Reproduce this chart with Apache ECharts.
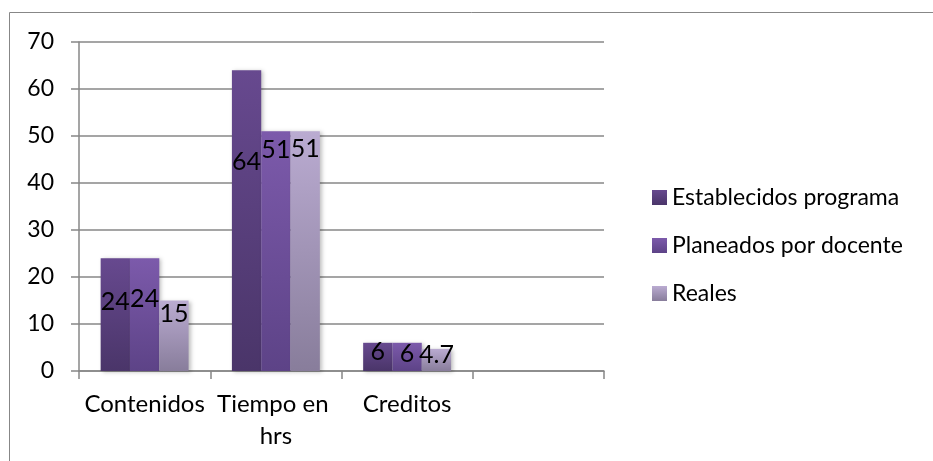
<!DOCTYPE html>
<html><head><meta charset="utf-8">
<script src="https://cdn.jsdelivr.net/npm/echarts@6/dist/echarts.min.js"></script>
<style>html,body{margin:0;padding:0;background:#fff}#c{width:933px;height:461px}</style>
</head><body><div id="c"></div>
<script>
var categories = ['Contenidos', 'Tiempo en hrs', 'Creditos', ''];
var seriesNames = ['Establecidos programa', 'Planeados por docente', 'Reales'];
var establecidos = [24, 64, 6, null];
var planeados = [24, 51, 6, null];
var reales = [15, 51, 4.7, null];
var yTicks = [0, 10, 20, 30, 40, 50, 60, 70];

var FONT = 'Lato';
var colors = [
  ['#67498f', '#4a3569'],
  ['#7c5aab', '#5d4387'],
  ['#baabd1', '#887d9b']
];
// label vertical nudges (style only)
var labelNudge = [[26, 74, -8, 0], [23, 1, -6, 0], [-4, 0, -11, 0]];

function grad(c) {
  return new echarts.graphic.LinearGradient(0, 0, 0, 1, [{offset: 0, color: c[0]}, {offset: 1, color: c[1]}]);
}
var values = [establecidos, planeados, reales];
var series = values.map(function (arr, s) {
  return {
    name: seriesNames[s], type: 'bar', barGap: '0%', barCategoryGap: '33%',
    itemStyle: {color: grad(colors[s]), shadowColor: 'rgba(0,0,0,0.25)', shadowBlur: 4, shadowOffsetX: 2, shadowOffsetY: 1},
    label: {show: true, position: 'insideTop', distance: 5, color: '#000', fontFamily: FONT, fontSize: 25},
    data: arr.map(function (v, i) {
      return {value: v, label: {offset: [0, labelNudge[s][i]]}};
    })
  };
});

var chart = echarts.init(document.getElementById('c'));
chart.setOption({
  animation: false,
  graphic: [{type: 'rect', shape: {x: 9.5, y: 12.5, width: 1000, height: 500}, style: {fill: 'none', stroke: '#878787', lineWidth: 1}, z: -1}],
  grid: {left: 79, right: 329, top: 42, bottom: 90},
  legend: {
    orient: 'vertical', left: 647, top: 181, itemGap: 25, itemWidth: 15, itemHeight: 15,
    icon: 'rect', data: seriesNames,
    textStyle: {fontFamily: FONT, fontSize: 23, color: '#000'}
  },
  xAxis: {
    type: 'category', data: categories,
    axisLine: {lineStyle: {color: '#878787', width: 1.5}},
    axisTick: {show: true, length: 8, lineStyle: {color: '#878787', width: 1.5}},
    axisLabel: {fontFamily: FONT, fontSize: 24, color: '#000', margin: 17, width: 128, overflow: 'break', lineHeight: 32, interval: 0}
  },
  yAxis: {
    type: 'value', min: 0, max: 70, interval: 10,
    axisLine: {show: true, lineStyle: {color: '#878787', width: 1.5}},
    axisTick: {show: true, length: 8, lineStyle: {color: '#878787', width: 1.5}},
    splitLine: {lineStyle: {color: '#878787', width: 1.5}},
    axisLabel: {fontFamily: FONT, fontSize: 23, color: '#000', margin: 25,
      formatter: function (v) { return yTicks.indexOf(v) >= 0 ? String(v) : ''; }}
  },
  series: series
});
</script></body></html>
